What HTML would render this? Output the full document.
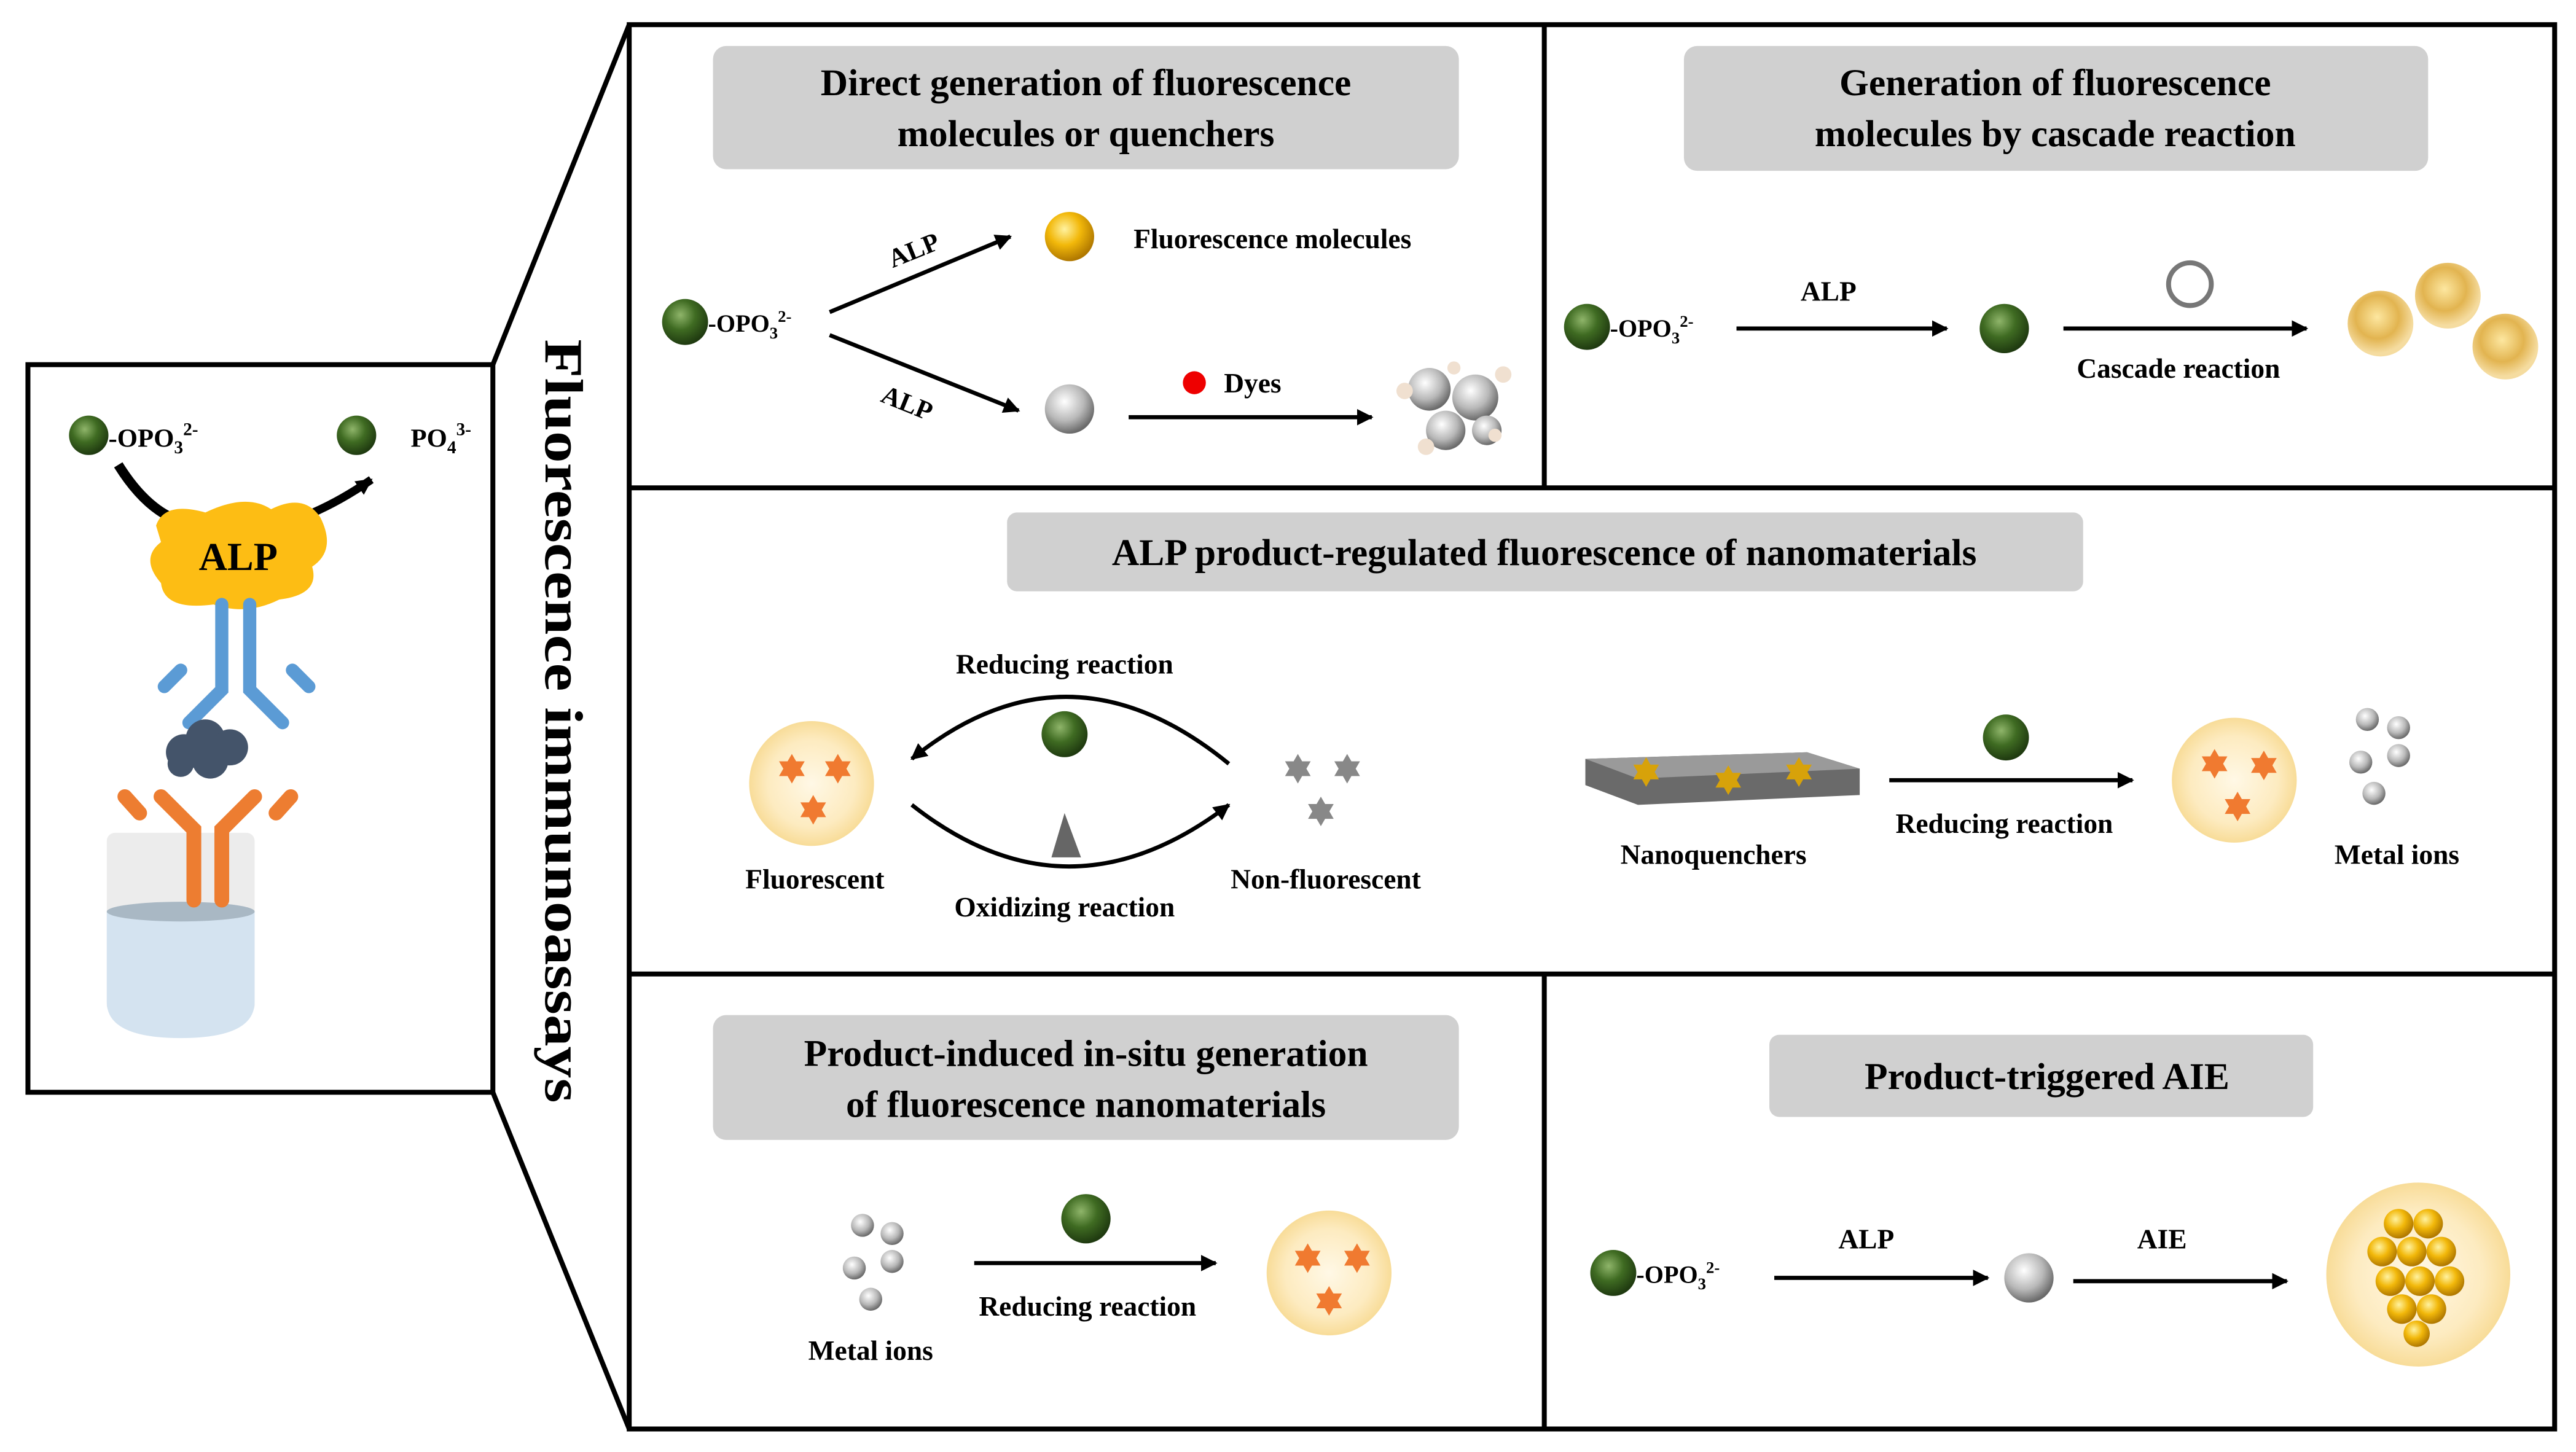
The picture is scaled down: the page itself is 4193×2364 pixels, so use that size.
<!DOCTYPE html>
<html><head><meta charset="utf-8"><style>html,body{margin:0;padding:0;background:#fff}svg{display:block}</style></head>
<body>
<svg width="4193" height="2364" viewBox="0 0 1568 884" xmlns="http://www.w3.org/2000/svg" font-family="'Liberation Serif',serif" font-weight="bold">
<defs>
<radialGradient id="g" cx="40%" cy="35%" r="65%"><stop offset="0" stop-color="#8fb56a"/><stop offset="0.5" stop-color="#3f6b22"/><stop offset="1" stop-color="#1f3a10"/></radialGradient>
<radialGradient id="y" cx="40%" cy="35%" r="65%"><stop offset="0" stop-color="#fff2a0"/><stop offset="0.5" stop-color="#f2b80a"/><stop offset="1" stop-color="#b07800"/></radialGradient>
<radialGradient id="s" cx="40%" cy="35%" r="65%"><stop offset="0" stop-color="#fff"/><stop offset="0.6" stop-color="#b8b8b8"/><stop offset="1" stop-color="#6a6a6a"/></radialGradient>
<radialGradient id="glow" cx="50%" cy="50%" r="50%"><stop offset="0" stop-color="#fff8e6"/><stop offset="0.7" stop-color="#fdebc0"/><stop offset="1" stop-color="#f8dc98"/></radialGradient>
<radialGradient id="gs" cx="45%" cy="40%" r="55%"><stop offset="0" stop-color="#fde7a0"/><stop offset="0.6" stop-color="#e2b450"/><stop offset="1" stop-color="#f5dca0"/></radialGradient>
<marker id="a" markerWidth="10" markerHeight="10" refX="9" refY="5" orient="auto" markerUnits="userSpaceOnUse"><path d="M0,0 L10,5 L0,10 Z" fill="#000"/></marker>
<g id="star"><path d="M0,-9 L2.6,-4.5 L7.8,-4.5 L5.2,0 L7.8,4.5 L2.6,4.5 L0,9 L-2.6,4.5 L-7.8,4.5 L-5.2,0 L-7.8,-4.5 L-2.6,-4.5Z"/></g>
</defs>
<g fill="none" stroke="#000" stroke-width="3">
<rect x="17" y="222" width="283" height="443"/>
<line x1="300" y1="222" x2="383" y2="15"/><line x1="300" y1="665" x2="383" y2="870"/>
<rect x="383" y="15" width="1172" height="855"/>
<line x1="383" y1="297" x2="1555" y2="297"/><line x1="383" y1="593" x2="1555" y2="593"/>
<line x1="940" y1="15" x2="940" y2="297"/><line x1="940" y1="593" x2="940" y2="870"/>
</g>
<text transform="translate(332,439) rotate(90)" text-anchor="middle" font-size="33" textLength="465" lengthAdjust="spacingAndGlyphs">Fluorescence immunoassays</text>
<!-- left panel -->
<circle cx="54" cy="265" r="12" fill="url(#g)"/><text x="66" y="272" font-size="16">-OPO<tspan font-size="11" dy="4">3</tspan><tspan font-size="11" dy="-11">2-</tspan></text>
<circle cx="217" cy="265" r="12" fill="url(#g)"/><text x="250" y="272" font-size="16">PO<tspan font-size="11" dy="4">4</tspan><tspan font-size="11" dy="-11">3-</tspan></text>
<path d="M72,283 Q90,312 112,318" stroke="#000" stroke-width="6" fill="none"/>
<path d="M175,318 Q200,310 226,292" stroke="#000" stroke-width="5" fill="none" marker-end="url(#a)"/>
<path d="M95,320 Q100,305 125,312 Q150,300 165,310 Q185,300 195,315 Q205,335 190,345 Q195,362 170,365 Q150,375 130,368 Q100,372 98,355 Q85,340 98,330 Z" fill="#fdbd14"/>
<text x="145" y="347" font-size="24" text-anchor="middle">ALP</text>
<g stroke="#5b9bd5" stroke-width="8" fill="none" stroke-linecap="round"><path d="M135,368 V420 L115,440"/><path d="M152,368 V420 L172,440"/><path d="M110,408 L100,418"/><path d="M178,408 L188,418"/></g>
<g fill="#44546a"><circle cx="112" cy="458" r="11"/><circle cx="125" cy="450" r="12"/><circle cx="140" cy="455" r="11"/><circle cx="128" cy="463" r="11"/><circle cx="110" cy="465" r="8"/></g>
<rect x="65" y="507" width="90" height="110" rx="5" fill="#ececec"/>
<path d="M65,555 H155 V610 Q155,632 110,632 Q65,632 65,610 Z" fill="#d4e3f0"/>
<ellipse cx="110" cy="555" rx="45" ry="6" fill="#a9b8c4"/>
<g stroke="#ed7d31" stroke-width="9" fill="none" stroke-linecap="round"><path d="M118,548 V505 L98,485"/><path d="M135,548 V505 L155,485"/><path d="M85,495 L76,485"/><path d="M168,495 L177,485"/></g>
<!-- panel 1 -->
<rect x="434" y="28" width="454" height="75" rx="8" fill="#d0d0d0"/>
<text x="661" y="58" font-size="23" text-anchor="middle">Direct generation of fluorescence</text>
<text x="661" y="89" font-size="23" text-anchor="middle">molecules or quenchers</text>
<circle cx="417" cy="196" r="14" fill="url(#g)"/><text x="431" y="202" font-size="15">-OPO<tspan font-size="10" dy="4">3</tspan><tspan font-size="10" dy="-10">2-</tspan></text>
<g stroke="#000" stroke-width="2.5" marker-end="url(#a)"><line x1="505" y1="190" x2="615" y2="144"/><line x1="505" y1="204" x2="620" y2="250"/><line x1="687" y1="254" x2="835" y2="254"/></g>
<text x="540" y="158" font-size="16" transform="rotate(-22 555 152)">ALP</text>
<text x="535" y="250" font-size="16" transform="rotate(22 550 248)">ALP</text>
<circle cx="651" cy="144" r="15" fill="url(#y)"/><text x="690" y="151" font-size="17">Fluorescence molecules</text>
<circle cx="651" cy="249" r="15" fill="url(#s)"/>
<circle cx="727" cy="233" r="7" fill="#e00"/><text x="745" y="239" font-size="17">Dyes</text>
<g fill="url(#s)"><circle cx="870" cy="237" r="13"/><circle cx="898" cy="242" r="14"/><circle cx="880" cy="262" r="12"/><circle cx="905" cy="262" r="9"/></g>
<g fill="#f0e0d0"><circle cx="855" cy="238" r="5"/><circle cx="915" cy="228" r="5"/><circle cx="868" cy="272" r="5"/><circle cx="910" cy="265" r="4"/><circle cx="885" cy="224" r="4"/></g>
<!-- panel 2 -->
<rect x="1025" y="28" width="453" height="76" rx="8" fill="#d0d0d0"/>
<text x="1251" y="58" font-size="23" text-anchor="middle">Generation of fluorescence</text>
<text x="1251" y="89" font-size="23" text-anchor="middle">molecules by cascade reaction</text>
<circle cx="966" cy="199" r="14" fill="url(#g)"/><text x="980" y="205" font-size="15">-OPO<tspan font-size="10" dy="4">3</tspan><tspan font-size="10" dy="-10">2-</tspan></text>
<text x="1113" y="183" font-size="17" text-anchor="middle">ALP</text>
<g stroke="#000" stroke-width="2.5" marker-end="url(#a)"><line x1="1057" y1="200" x2="1185" y2="200"/><line x1="1256" y1="200" x2="1404" y2="200"/></g>
<circle cx="1220" cy="200" r="15" fill="url(#g)"/>
<circle cx="1333" cy="173" r="13" fill="none" stroke="#777" stroke-width="3"/>
<text x="1326" y="230" font-size="17" text-anchor="middle">Cascade reaction</text>
<g><circle cx="1449" cy="197" r="20" fill="url(#gs)"/><circle cx="1490" cy="180" r="20" fill="url(#gs)"/><circle cx="1525" cy="211" r="20" fill="url(#gs)"/></g>
<!-- panel 3 -->
<rect x="613" y="312" width="655" height="48" rx="6" fill="#d0d0d0"/>
<text x="940" y="344" font-size="23" text-anchor="middle">ALP product-regulated  fluorescence of nanomaterials</text>
<circle cx="494" cy="477" r="38" fill="url(#glow)"/>
<g fill="#f07a30"><use href="#star" x="482" y="468"/><use href="#star" x="510" y="468"/><use href="#star" x="495" y="493"/></g>
<text x="496" y="541" font-size="17" text-anchor="middle">Fluorescent</text>
<g stroke="#000" stroke-width="2.5" fill="none"><path d="M748,465 Q650,385 555,462" marker-end="url(#a)"/><path d="M555,490 Q650,565 748,490" marker-end="url(#a)"/></g>
<text x="648" y="410" font-size="17" text-anchor="middle">Reducing reaction</text>
<circle cx="648" cy="447" r="14" fill="url(#g)"/>
<path d="M648,495 L640,522 L658,522 Z" fill="#666"/>
<text x="648" y="558" font-size="17" text-anchor="middle">Oxidizing reaction</text>
<g fill="#888"><use href="#star" x="790" y="468"/><use href="#star" x="820" y="468"/><use href="#star" x="804" y="494"/></g>
<text x="807" y="541" font-size="17" text-anchor="middle">Non-fluorescent</text>
<path d="M965,462 L1100,458 L1132,468 L1132,484 L997,490 L965,478 Z" fill="#6a6a6a"/>
<path d="M965,462 L1100,458 L1132,468 L997,474 Z" fill="#9a9a9a"/>
<g fill="#d7a20a"><use href="#star" x="1002" y="470"/><use href="#star" x="1052" y="475"/><use href="#star" x="1095" y="470"/></g>
<text x="1043" y="526" font-size="17" text-anchor="middle">Nanoquenchers</text>
<circle cx="1221" cy="449" r="14" fill="url(#g)"/>
<line x1="1150" y1="475" x2="1298" y2="475" stroke="#000" stroke-width="2.5" marker-end="url(#a)"/>
<text x="1220" y="507" font-size="17" text-anchor="middle">Reducing reaction</text>
<circle cx="1360" cy="475" r="38" fill="url(#glow)"/>
<g fill="#f07a30"><use href="#star" x="1348" y="465"/><use href="#star" x="1378" y="466"/><use href="#star" x="1362" y="491"/></g>
<g fill="url(#s)"><circle cx="1441" cy="438" r="7"/><circle cx="1460" cy="443" r="7"/><circle cx="1437" cy="464" r="7"/><circle cx="1460" cy="460" r="7"/><circle cx="1445" cy="483" r="7"/></g>
<text x="1459" y="526" font-size="17" text-anchor="middle">Metal ions</text>
<!-- panel 4 -->
<rect x="434" y="618" width="454" height="76" rx="8" fill="#d0d0d0"/>
<text x="661" y="649" font-size="23" text-anchor="middle">Product-induced in-situ generation</text>
<text x="661" y="680" font-size="23" text-anchor="middle">of fluorescence nanomaterials</text>
<g fill="url(#s)"><circle cx="525" cy="746" r="7"/><circle cx="543" cy="751" r="7"/><circle cx="520" cy="772" r="7"/><circle cx="543" cy="768" r="7"/><circle cx="530" cy="791" r="7"/></g>
<text x="530" y="828" font-size="17" text-anchor="middle">Metal ions</text>
<circle cx="661" cy="742" r="15" fill="url(#g)"/>
<line x1="593" y1="769" x2="740" y2="769" stroke="#000" stroke-width="2.5" marker-end="url(#a)"/>
<text x="662" y="801" font-size="17" text-anchor="middle">Reducing reaction</text>
<circle cx="809" cy="775" r="38" fill="url(#glow)"/>
<g fill="#f07a30"><use href="#star" x="796" y="766"/><use href="#star" x="826" y="766"/><use href="#star" x="809" y="792"/></g>
<!-- panel 5 -->
<rect x="1077" y="630" width="331" height="50" rx="6" fill="#d0d0d0"/>
<text x="1246" y="663" font-size="23" text-anchor="middle">Product-triggered AIE</text>
<circle cx="982" cy="775" r="14" fill="url(#g)"/><text x="996" y="781" font-size="15">-OPO<tspan font-size="10" dy="4">3</tspan><tspan font-size="10" dy="-10">2-</tspan></text>
<text x="1136" y="760" font-size="17" text-anchor="middle">ALP</text>
<text x="1316" y="760" font-size="17" text-anchor="middle">AIE</text>
<g stroke="#000" stroke-width="2.5" marker-end="url(#a)"><line x1="1080" y1="778" x2="1210" y2="778"/><line x1="1262" y1="780" x2="1392" y2="780"/></g>
<circle cx="1235" cy="778" r="15" fill="url(#s)"/>
<circle cx="1472" cy="776" r="56" fill="url(#glow)"/>
<g fill="url(#y)"><circle cx="1460" cy="745" r="9"/><circle cx="1478" cy="745" r="9"/><circle cx="1450" cy="762" r="9"/><circle cx="1468" cy="762" r="9"/><circle cx="1486" cy="762" r="9"/><circle cx="1455" cy="780" r="9"/><circle cx="1473" cy="780" r="9"/><circle cx="1491" cy="780" r="9"/><circle cx="1462" cy="797" r="9"/><circle cx="1480" cy="797" r="9"/><circle cx="1471" cy="812" r="8"/></g>
</svg>
</body></html>
